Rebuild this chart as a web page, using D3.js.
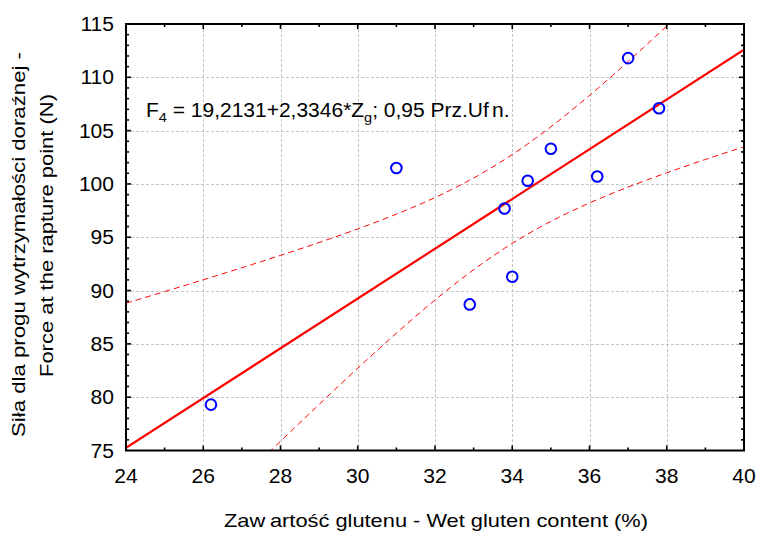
<!DOCTYPE html>
<html>
<head>
<meta charset="utf-8">
<script src="https://cdn.jsdelivr.net/npm/d3@7"></script>
<style>
  html, body { margin: 0; padding: 0; background: #fff; }
  svg { display: block; font-family: "Liberation Sans", Arial, sans-serif; }
</style>
</head>
<body>
<svg id="chart" width="759" height="533"></svg>
<script>
// Wet gluten content (%) and force at the rapture point (N)
const glutenContent = [26.2, 31.0, 32.9, 33.8, 34.0, 34.4, 35.0, 36.2, 37.0, 37.8];
const ruptureForce  = [79.3, 101.5, 88.7, 97.7, 91.3, 100.3, 103.3, 100.7, 111.8, 107.1];

// Fitted model F4 = a + b * Zg and 0.95 confidence level
const intercept = 19.2131;
const slope = 2.3346;
const tCrit95 = 2.306; // Student t, 0.975 quantile, df = n - 2 = 8

const xTicks = [24, 26, 28, 30, 32, 34, 36, 38, 40];
const yTicks = [75, 80, 85, 90, 95, 100, 105, 110, 115];

const svg = d3.select("#chart");
const plot = { left: 126, right: 744, top: 24, bottom: 450.5 };

const x = d3.scaleLinear().domain([24, 40]).range([plot.left, plot.right]);
const y = d3.scaleLinear().domain([75, 115]).range([plot.bottom, plot.top]);

svg.append("defs").append("clipPath").attr("id", "plotClip")
  .append("rect")
  .attr("x", plot.left).attr("y", plot.top)
  .attr("width", plot.right - plot.left).attr("height", plot.bottom - plot.top);

// Grid
const grid = svg.append("g").attr("stroke", "#c4c4c4").attr("stroke-width", 1)
  .attr("stroke-dasharray", "3,2");
grid.selectAll("line.vx").data(xTicks.slice(1, -1)).join("line")
  .attr("x1", d => Math.round(x(d)) + 0.5).attr("x2", d => Math.round(x(d)) + 0.5)
  .attr("y1", plot.top).attr("y2", plot.bottom);
grid.selectAll("line.hy").data(yTicks.slice(1, -1)).join("line")
  .attr("y1", d => Math.round(y(d)) + 0.5).attr("y2", d => Math.round(y(d)) + 0.5)
  .attr("x1", plot.left).attr("x2", plot.right);

// Regression line and confidence band, computed from the observations
const n = glutenContent.length;
const meanX = d3.mean(glutenContent);
const sxx = d3.sum(glutenContent, v => (v - meanX) ** 2);
const sse = d3.sum(glutenContent, (v, i) => (ruptureForce[i] - (intercept + slope * v)) ** 2);
const se = Math.sqrt(sse / (n - 2));
const fit = v => intercept + slope * v;
const halfWidth = v => tCrit95 * se * Math.sqrt(1 / n + (v - meanX) ** 2 / sxx);
const xs = d3.range(24, 40.001, 0.1);

const curves = svg.append("g").attr("clip-path", "url(#plotClip)").attr("fill", "none");
const line = d3.line().x(d => x(d[0])).y(d => y(d[1]));
curves.append("path")
  .attr("d", line(xs.map(v => [v, fit(v) + halfWidth(v)])))
  .attr("stroke", "#ff0000").attr("stroke-width", 1).attr("stroke-dasharray", "6,4");
curves.append("path")
  .attr("d", line(xs.map(v => [v, fit(v) - halfWidth(v)])))
  .attr("stroke", "#ff0000").attr("stroke-width", 1).attr("stroke-dasharray", "6,4");
curves.append("path")
  .attr("d", line([[24, fit(24)], [40, fit(40)]]))
  .attr("stroke", "#ff0000").attr("stroke-width", 2.2);

// Observations
svg.append("g").selectAll("circle").data(glutenContent).join("circle")
  .attr("cx", d => x(d)).attr("cy", (d, i) => y(ruptureForce[i]))
  .attr("r", 5.3).attr("fill", "none").attr("stroke", "#0000ff").attr("stroke-width", 2);

// Frame with inward ticks on all four sides
const frame = svg.append("g").attr("stroke", "#000");
const xMinor = d3.range(25, 40, 1);
const yMinor = d3.range(76, 115, 1);
const tickLen = d => (d % 2 === 0 ? 5 : 3);
const yTickLen = d => (d % 5 === 0 ? 5 : 3);
frame.selectAll("line.bt").data(xMinor).join("line")
  .attr("x1", d => x(d)).attr("x2", d => x(d))
  .attr("y1", plot.bottom).attr("y2", d => plot.bottom - tickLen(d)).attr("stroke-width", 1.6);
frame.selectAll("line.tt").data(xMinor).join("line")
  .attr("x1", d => x(d)).attr("x2", d => x(d))
  .attr("y1", plot.top).attr("y2", d => plot.top + tickLen(d)).attr("stroke-width", 1.6);
frame.selectAll("line.lt").data(yMinor).join("line")
  .attr("y1", d => y(d)).attr("y2", d => y(d))
  .attr("x1", plot.left).attr("x2", d => plot.left + yTickLen(d)).attr("stroke-width", 1.6);
frame.selectAll("line.rt").data(yMinor).join("line")
  .attr("y1", d => y(d)).attr("y2", d => y(d))
  .attr("x1", plot.right).attr("x2", d => plot.right - yTickLen(d)).attr("stroke-width", 1.6);
frame.append("rect")
  .attr("x", plot.left).attr("y", plot.top)
  .attr("width", plot.right - plot.left).attr("height", plot.bottom - plot.top)
  .attr("fill", "none").attr("stroke-width", 2);

// Tick labels (slightly wide lettering)
const labelSize = 19.5;
const stretch = 1.08;
svg.append("g").selectAll("text").data(xTicks).join("text")
  .attr("transform", d => `translate(${x(d)},483) scale(${stretch},1)`)
  .attr("text-anchor", "middle").attr("font-size", labelSize).attr("fill", "#000")
  .text(d => d);
svg.append("g").selectAll("text").data(yTicks).join("text")
  .attr("transform", d => `translate(114,${y(d) + 7}) scale(${stretch},1)`)
  .attr("text-anchor", "end").attr("font-size", labelSize).attr("fill", "#000")
  .text(d => d);

// Axis titles
const xTitle = svg.append("text")
  .attr("x", 224).attr("y", 527)
  .attr("textLength", 424).attr("lengthAdjust", "spacingAndGlyphs")
  .attr("font-size", 18.5).attr("fill", "#000");
xTitle.append("tspan").text("Zaw");
xTitle.append("tspan").attr("dx", 4).text("artość glutenu - Wet gluten content (%)");

const yTitle = svg.append("g").attr("transform", "rotate(-90)");
yTitle.append("text")
  .attr("x", -437).attr("y", 25)
  .attr("textLength", 385).attr("lengthAdjust", "spacingAndGlyphs")
  .attr("font-size", 18.5).attr("fill", "#000")
  .text("Siła dla progu wytrzymałości doraźnej -");
yTitle.append("text")
  .attr("x", -377).attr("y", 53)
  .attr("textLength", 283).attr("lengthAdjust", "spacingAndGlyphs")
  .attr("font-size", 18.5).attr("fill", "#000")
  .text("Force at the rapture point (N)");

// Model annotation
const eq = svg.append("text")
  .attr("transform", `translate(146,117) scale(1.077,1)`)
  .attr("font-size", 19.5).attr("fill", "#000");
eq.append("tspan").text("F");
eq.append("tspan").attr("font-size", 13.5).attr("dy", 5).text("4");
eq.append("tspan").attr("dy", -5).text(" = 19,2131+2,3346*Z");
eq.append("tspan").attr("font-size", 13.5).attr("dy", 5).text("g");
eq.append("tspan").attr("dy", -5).text("; 0,95 Prz.Uf");
eq.append("tspan").attr("dx", 3).text("n.");
</script>
</body>
</html>
